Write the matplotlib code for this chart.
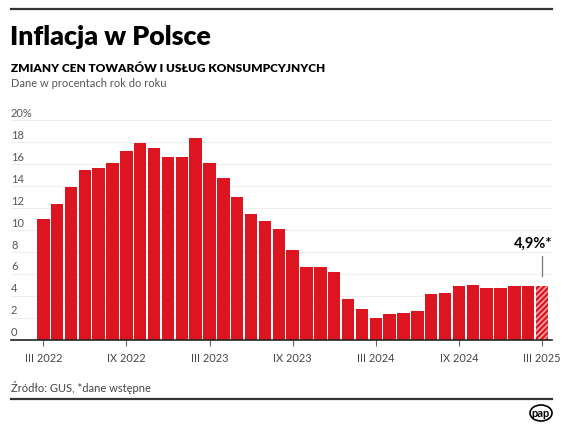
import matplotlib.pyplot as plt
from matplotlib.patches import Ellipse
from matplotlib.lines import Line2D

# Inflacja w Polsce, CPI r/r, III 2022 - III 2025
miesiace = ['III 2022', 'IV 2022', 'V 2022', 'VI 2022', 'VII 2022', 'VIII 2022',
            'IX 2022', 'X 2022', 'XI 2022', 'XII 2022',
            'I 2023', 'II 2023', 'III 2023', 'IV 2023', 'V 2023', 'VI 2023',
            'VII 2023', 'VIII 2023', 'IX 2023', 'X 2023', 'XI 2023', 'XII 2023',
            'I 2024', 'II 2024', 'III 2024', 'IV 2024', 'V 2024', 'VI 2024',
            'VII 2024', 'VIII 2024', 'IX 2024', 'X 2024', 'XI 2024', 'XII 2024',
            'I 2025', 'II 2025', 'III 2025']
inflacja = [11.0, 12.4, 13.9, 15.5, 15.6, 16.1, 17.2, 17.9, 17.5, 16.6,
            16.6, 18.4, 16.1, 14.7, 13.0, 11.5, 10.8, 10.1, 8.2, 6.6, 6.6, 6.2,
            3.7, 2.8, 2.0, 2.4, 2.5, 2.6, 4.2, 4.3, 4.9, 5.0, 4.7, 4.7,
            4.9, 4.9, 4.9]
etykiety_x = ['III 2022', 'IX 2022', 'III 2023', 'IX 2023', 'III 2024', 'IX 2024', 'III 2025']
etykiety_y = [0, 2, 4, 6, 8, 10, 12, 14, 16, 18, 20]

CZERWONY = '#dc1520'
SZARY = '#444444'
FONT = ['Lato', 'DejaVu Sans']
plt.rcParams['font.family'] = FONT
plt.rcParams['hatch.linewidth'] = 1.2

fig = plt.figure(figsize=(5.64, 4.29), dpi=100)
W, H = 564, 429

def fx(px):
    return px / W

def fy(py):
    return 1 - py / H

# linie poziome (gora i dol)
fig.add_artist(Line2D([fx(11), fx(552)], [fy(9), fy(9)], color='#333333', lw=1.6))
fig.add_artist(Line2D([fx(11), fx(552)], [fy(399), fy(399)], color='#333333', lw=1.6))

# naglowki
fig.text(fx(10), fy(45), 'Inflacja w Polsce', fontsize=19.3, fontweight='heavy',
         color='black', va='baseline')
fig.text(fx(11), fy(71.5), 'ZMIANY CEN TOWARÓW I USŁUG KONSUMPCYJNYCH', fontsize=8.6,
         fontweight='heavy', color='black', va='baseline')
fig.text(fx(11), fy(87), 'Dane w procentach rok do roku', fontsize=8.0,
         color='#555555', va='baseline')

# wykres
ax = fig.add_axes([fx(11), fy(340), fx(552) - fx(11), fy(120) - fy(340)])
x = list(range(len(inflacja)))
ax.bar(x[:-1], inflacja[:-1], width=0.9, color=CZERWONY, edgecolor='none', zorder=2)
ax.bar(x[-1], inflacja[-1], width=0.9, color=CZERWONY, edgecolor='#f4a3a6',
       hatch='//////', linewidth=0, zorder=2)

ax.set_xlim(-2.33, 36.72)
ax.set_ylim(0, 20)
for v in etykiety_y:
    ax.axhline(v, color='#eeeeee', lw=0.8, zorder=0)
    lab = f'{v}%' if v == 20 else str(v)
    ax.annotate(lab, xy=(0, v), xycoords=('axes fraction', 'data'),
                xytext=(0, 7), textcoords='offset pixels', ha='left', va='center',
                fontsize=8, color='#555555')

ax.set_yticks([])
pozycje = [miesiace.index(m) for m in etykiety_x]
ax.set_xticks(pozycje)
ax.set_xticklabels(etykiety_x, fontsize=7.9, color=SZARY)
ax.tick_params(axis='x', length=4, width=0.8, color='#666666', pad=5)
for s in ['top', 'right', 'left']:
    ax.spines[s].set_visible(False)
ax.spines['bottom'].set_color('#222222')
ax.spines['bottom'].set_linewidth(1.2)
ax.spines['bottom'].set_zorder(3)

# adnotacja ostatniej wartosci
ax.plot([x[-1], x[-1]], [5.8, 7.6], color='#777777', lw=0.9, zorder=3)
ax.text(36.72, 8.4, '4,9%*', ha='right', va='baseline', fontsize=10.5,
        fontweight='bold', color='black')

# stopka
fig.text(fx(11), fy(387), 'Źródło: GUS, *dane wstępne', fontsize=8.0,
         color=SZARY, va='center')

# logo pap
fig.add_artist(Ellipse((fx(541), fy(413)), fx(22), 16 / H, facecolor='white',
                       edgecolor='black', lw=1.2, transform=fig.transFigure))
fig.text(fx(541), fy(413.5), 'pap', fontsize=8, fontweight='bold', ha='center',
         va='center', color='black')

fig.savefig('out.png', dpi=100)
